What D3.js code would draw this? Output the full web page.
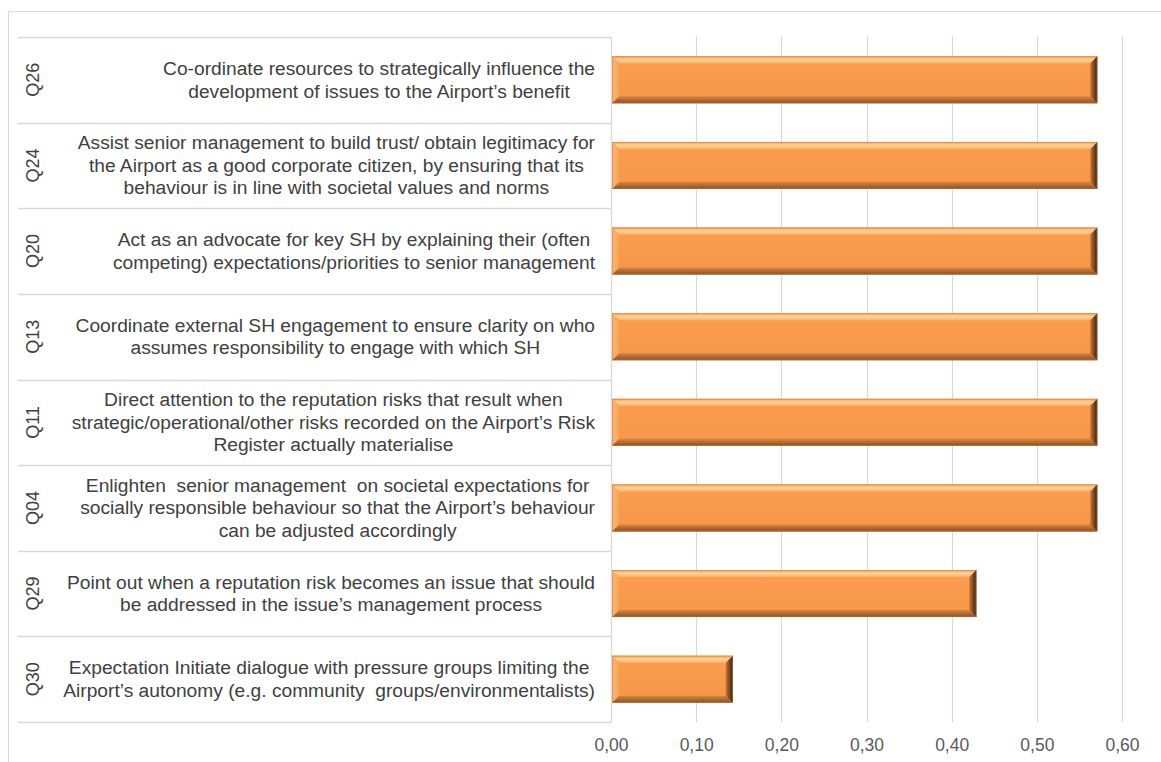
<!DOCTYPE html>
<html>
<head>
<meta charset="utf-8">
<script src="https://cdn.jsdelivr.net/npm/d3@7"></script>
<style>
  html, body { margin: 0; padding: 0; background: #fff; }
  svg { display: block; font-family: "Liberation Sans", Arial, sans-serif; }
</style>
</head>
<body>
<svg id="chart" width="1161" height="762"></svg>
<script>
// Question codes, top to bottom
const codes = ["Q26", "Q24", "Q20", "Q13", "Q11", "Q04", "Q29", "Q30"];

// Question wording, pre-wrapped as in the category table
const descriptions = [
  ["Co-ordinate resources to strategically influence the", "development of issues to the Airport\u2019s benefit"],
  ["Assist senior management to build trust/ obtain legitimacy for", "the Airport as a good corporate citizen, by ensuring that its", "behaviour is in line with societal values and norms"],
  ["Act as an advocate for key SH by explaining their (often", "competing) expectations/priorities to senior management"],
  ["Coordinate external SH engagement to ensure clarity on who", "assumes responsibility to engage with which SH"],
  ["Direct attention to the reputation risks that result when", "strategic/operational/other risks recorded on the Airport\u2019s Risk", "Register actually materialise"],
  ["Enlighten  senior management  on societal expectations for", "socially responsible behaviour so that the Airport\u2019s behaviour", "can be adjusted accordingly"],
  ["Point out when a reputation risk becomes an issue that should", "be addressed in the issue\u2019s management process"],
  ["Expectation Initiate dialogue with pressure groups limiting the", "Airport\u2019s autonomy (e.g. community  groups/environmentalists)"]
];

// Share of respondents per question
const values = [0.571, 0.571, 0.571, 0.571, 0.571, 0.571, 0.429, 0.143];

// Value axis ticks
const ticks = [0, 0.1, 0.2, 0.3, 0.4, 0.5, 0.6];

const svg = d3.select("#chart");
const W = 1161, H = 762;

const plot = { left: 611, top: 37, bottom: 722 };
const tableLeft = 18;

const x = d3.scaleLinear().domain([0, 0.6]).range([plot.left, 1122]);
const y = d3.scaleBand().domain(codes).range([plot.top, plot.bottom]).paddingInner(0.45).paddingOuter(0.225);
const rowBand = d3.scaleBand().domain(codes).range([plot.top, plot.bottom]);

const grid = "#d9d9d9";

// Outer chart frame
svg.append("rect")
  .attr("x", 8.5).attr("y", 11.5)
  .attr("width", W + 10).attr("height", H + 10)
  .attr("fill", "none").attr("stroke", grid).attr("stroke-width", 1.2);

// Gridlines
svg.append("g").selectAll("line")
  .data(ticks.slice(1))
  .join("line")
  .attr("x1", d => Math.round(x(d)) + 0.5).attr("x2", d => Math.round(x(d)) + 0.5)
  .attr("y1", plot.top - 1).attr("y2", plot.bottom)
  .attr("stroke", grid).attr("stroke-width", 1.2);

// Category table: row separators and right edge
const tbl = svg.append("g");
const rowEdges = codes.map(c => rowBand(c)).concat([plot.bottom]);
tbl.selectAll("line.row")
  .data(rowEdges)
  .join("line")
  .attr("class", "row")
  .attr("x1", tableLeft).attr("x2", plot.left)
  .attr("y1", d => Math.round(d) + 0.5).attr("y2", d => Math.round(d) + 0.5)
  .attr("stroke", grid).attr("stroke-width", 1.3);
tbl.append("line")
  .attr("x1", plot.left + 0.5).attr("x2", plot.left + 0.5)
  .attr("y1", plot.top).attr("y2", plot.bottom + 0.5)
  .attr("stroke", grid).attr("stroke-width", 1.3);

// Question codes, rotated
tbl.selectAll("text.code")
  .data(codes)
  .join("text")
  .attr("class", "code")
  .attr("transform", d => `translate(39,${rowBand(d) + rowBand.bandwidth() / 2}) rotate(-90)`)
  .attr("text-anchor", "middle")
  .attr("font-size", 18)
  .attr("fill", "#404040")
  .text(d => d);

// Question wording: lines centred, block aligned to the right of the cell
const lineH = 22.5;
const textRight = 595;
const descG = tbl.selectAll("g.desc")
  .data(codes.map((c, i) => ({ code: c, lines: descriptions[i] })))
  .join("g")
  .attr("class", "desc");

descG.each(function(d) {
  const g = d3.select(this);
  const cy = rowBand(d.code) + rowBand.bandwidth() / 2;
  const n = d.lines.length;
  const texts = g.selectAll("text")
    .data(d.lines)
    .join("text")
    .attr("y", (l, i) => cy + (i - (n - 1) / 2) * lineH + 6.5)
    .attr("text-anchor", "middle")
    .attr("font-size", 19.2)
    .attr("fill", "#404040")
    .attr("xml:space", "preserve")
    .style("white-space", "pre")
    .text(l => l);
  let maxW = 0;
  texts.each(function() { maxW = Math.max(maxW, this.getComputedTextLength()); });
  texts.attr("x", textRight - maxW / 2);
});

// Bevel gradients
const defs = svg.append("defs");
function vGrad(id, stops) {
  const g = defs.append("linearGradient").attr("id", id).attr("x1", 0).attr("y1", 0).attr("x2", 0).attr("y2", 1);
  stops.forEach(s => g.append("stop").attr("offset", s[0]).attr("stop-color", s[1]));
}
function hGrad(id, stops) {
  const g = defs.append("linearGradient").attr("id", id).attr("x1", 0).attr("y1", 0).attr("x2", 1).attr("y2", 0);
  stops.forEach(s => g.append("stop").attr("offset", s[0]).attr("stop-color", s[1]));
}
vGrad("bevTop", [[0, "#f4a05a"], [0.5, "#ffd39b"], [1, "#fbb26c"]]);
vGrad("bevBot", [[0, "#d98540"], [1, "#8a4f24"]]);
hGrad("bevRight", [[0, "#c97636"], [1, "#35200e"]]);
hGrad("bevLeft", [[0, "#fbb679"], [1, "#f9a258"]]);
vGrad("face", [[0, "#fb9e4f"], [1, "#f79547"]]);

// Bars with a bevelled edge
const bev = 7;
const bars = svg.append("g").selectAll("g.bar")
  .data(codes.map((c, i) => ({ code: c, value: values[i] })))
  .join("g")
  .attr("class", "bar");

bars.each(function(d) {
  const g = d3.select(this);
  const x0 = x(0) + 1, x1 = x(d.value);
  const y0 = y(d.code), y1 = y0 + y.bandwidth();
  const b = Math.min(bev, (x1 - x0) / 2);
  g.append("rect").attr("x", x0).attr("y", y0).attr("width", x1 - x0).attr("height", y1 - y0).attr("fill", "url(#face)");
  g.append("polygon").attr("fill", "url(#bevTop)")
    .attr("points", [[x0, y0], [x1, y0], [x1 - b, y0 + b], [x0 + b, y0 + b]].join(" "));
  g.append("polygon").attr("fill", "url(#bevBot)")
    .attr("points", [[x0, y1], [x1, y1], [x1 - b, y1 - b], [x0 + b, y1 - b]].join(" "));
  g.append("polygon").attr("fill", "url(#bevLeft)")
    .attr("points", [[x0, y0], [x0 + b, y0 + b], [x0 + b, y1 - b], [x0, y1]].join(" "));
  g.append("polygon").attr("fill", "url(#bevRight)")
    .attr("points", [[x1, y0], [x1 - b, y0 + b], [x1 - b, y1 - b], [x1, y1]].join(" "));
  g.append("rect").attr("x", x0 + 0.5).attr("y", y0 + 0.5).attr("width", x1 - x0 - 1).attr("height", y1 - y0 - 1)
    .attr("fill", "none").attr("stroke", "#c9773a").attr("stroke-width", 0.8).attr("stroke-opacity", 0.6);
});

// Value axis
const fmt = d => d3.format(".2f")(d).replace(".", ",");
const axis = d3.axisBottom(x).tickValues(ticks).tickFormat(fmt).tickSize(0).tickPadding(0);
const ax = svg.append("g").attr("transform", `translate(0,${plot.bottom + 29})`).call(axis);
ax.select(".domain").remove();
ax.selectAll("text")
  .attr("font-size", 17.5)
  .attr("fill", "#595959")
  .attr("font-family", "\"Liberation Sans\", Arial, sans-serif")
  .attr("dy", "0");
</script>
</body>
</html>
